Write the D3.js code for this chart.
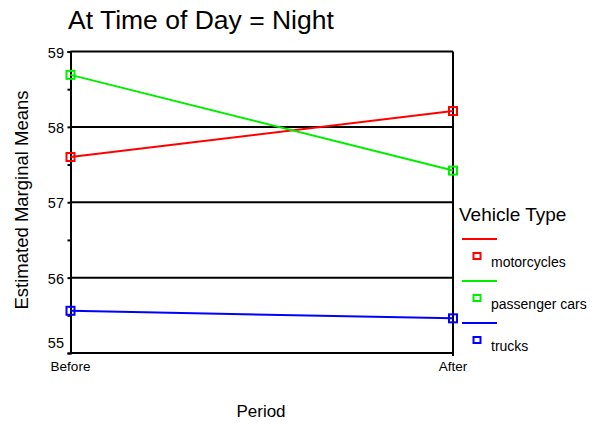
<html>
<head>
  <script src="https://d3js.org/d3.v7.min.js"></script>
  <style>
    body { margin: 0; background: #fff; }
    text { font-family: "Liberation Sans", Arial, sans-serif; fill: #000; }
  </style>
</head>
<body>
  <svg id="chart" width="596" height="424"></svg>
  <script>
    // data
    const periods = ["Before", "After"];
    const vehicles = ["motorcycles", "passenger cars", "trucks"];
    const colors = ["#ff0000", "#00ee00", "#0000ff"];
    const motorcycles = [57.6, 58.21];
    const passengerCars = [58.69, 57.42];
    const trucks = [55.56, 55.46];
    const yTicks = [55, 56, 57, 58, 59];

    const series = [motorcycles, passengerCars, trucks];

    const svg = d3.select("#chart");

    const x = d3.scalePoint().domain(periods).range([70.5, 453]);
    const y = d3.scaleLinear().domain([55, 59]).range([353, 51.5]);

    // title
    svg.append("text")
      .attr("x", 68).attr("y", 29)
      .attr("font-size", 26.5)
      .text("At Time of Day = Night");

    // grid lines (include top and bottom)
    svg.append("g").selectAll("line").data(yTicks)
      .join("line")
      .attr("x1", x("Before")).attr("x2", x("After"))
      .attr("y1", d => y(d)).attr("y2", d => y(d))
      .attr("stroke", "#000").attr("stroke-width", 2);

    // left axis with minor ticks
    const yAxis = d3.axisLeft(y).tickValues(d3.range(55, 59.01, 0.5))
      .tickSize(3).tickFormat("");
    const ag = svg.append("g").attr("transform", `translate(${x("Before")},0)`).call(yAxis);
    ag.select(".domain").attr("stroke-width", 2);
    ag.selectAll(".tick line").attr("stroke-width", 2);

    // y tick labels
    svg.append("g").selectAll("text").data(yTicks)
      .join("text")
      .attr("x", 64)
      .attr("y", d => y(d) + (d === 55 ? -5 : 6))
      .attr("text-anchor", "end")
      .attr("font-size", 14.5)
      .text(d => d);

    // right frame line
    svg.append("line")
      .attr("x1", x("After")).attr("x2", x("After"))
      .attr("y1", y(59)).attr("y2", y(55) + 3)
      .attr("stroke", "#000").attr("stroke-width", 2);

    // x labels
    svg.append("g").selectAll("text").data(periods)
      .join("text")
      .attr("x", d => x(d)).attr("y", 371)
      .attr("text-anchor", "middle")
      .attr("font-size", 13.5)
      .text(d => d);

    // axis titles
    svg.append("text")
      .attr("x", 261).attr("y", 417)
      .attr("text-anchor", "middle")
      .attr("font-size", 17)
      .text("Period");
    svg.append("text")
      .attr("transform", "translate(28,200) rotate(-90)")
      .attr("text-anchor", "middle")
      .attr("font-size", 18.5)
      .text("Estimated Marginal Means");

    // lines and markers
    const line = d3.line().x((d, i) => x(periods[i])).y(d => y(d));
    series.forEach((s, k) => {
      svg.append("path").datum(s)
        .attr("d", line)
        .attr("fill", "none")
        .attr("stroke", colors[k]).attr("stroke-width", 2);
      svg.append("g").selectAll("rect").data(s)
        .join("rect")
        .attr("x", (d, i) => x(periods[i]) - 4)
        .attr("y", d => y(d) - 4)
        .attr("width", 8).attr("height", 8)
        .attr("fill", "none")
        .attr("stroke", colors[k]).attr("stroke-width", 2);
    });

    // legend
    const lg = svg.append("g");
    lg.append("text")
      .attr("x", 459).attr("y", 221)
      .attr("font-size", 19)
      .text("Vehicle Type");
    vehicles.forEach((v, k) => {
      const top = 239 + k * 42;
      lg.append("line")
        .attr("x1", 462).attr("x2", 497)
        .attr("y1", top).attr("y2", top)
        .attr("stroke", colors[k]).attr("stroke-width", 2);
      lg.append("rect")
        .attr("x", 473.5).attr("y", top + 14)
        .attr("width", 7).attr("height", 6)
        .attr("fill", "none")
        .attr("stroke", colors[k]).attr("stroke-width", 2);
      lg.append("text")
        .attr("x", 491).attr("y", top + 28)
        .attr("font-size", 14)
        .text(v);
    });
  </script>
</body>
</html>
